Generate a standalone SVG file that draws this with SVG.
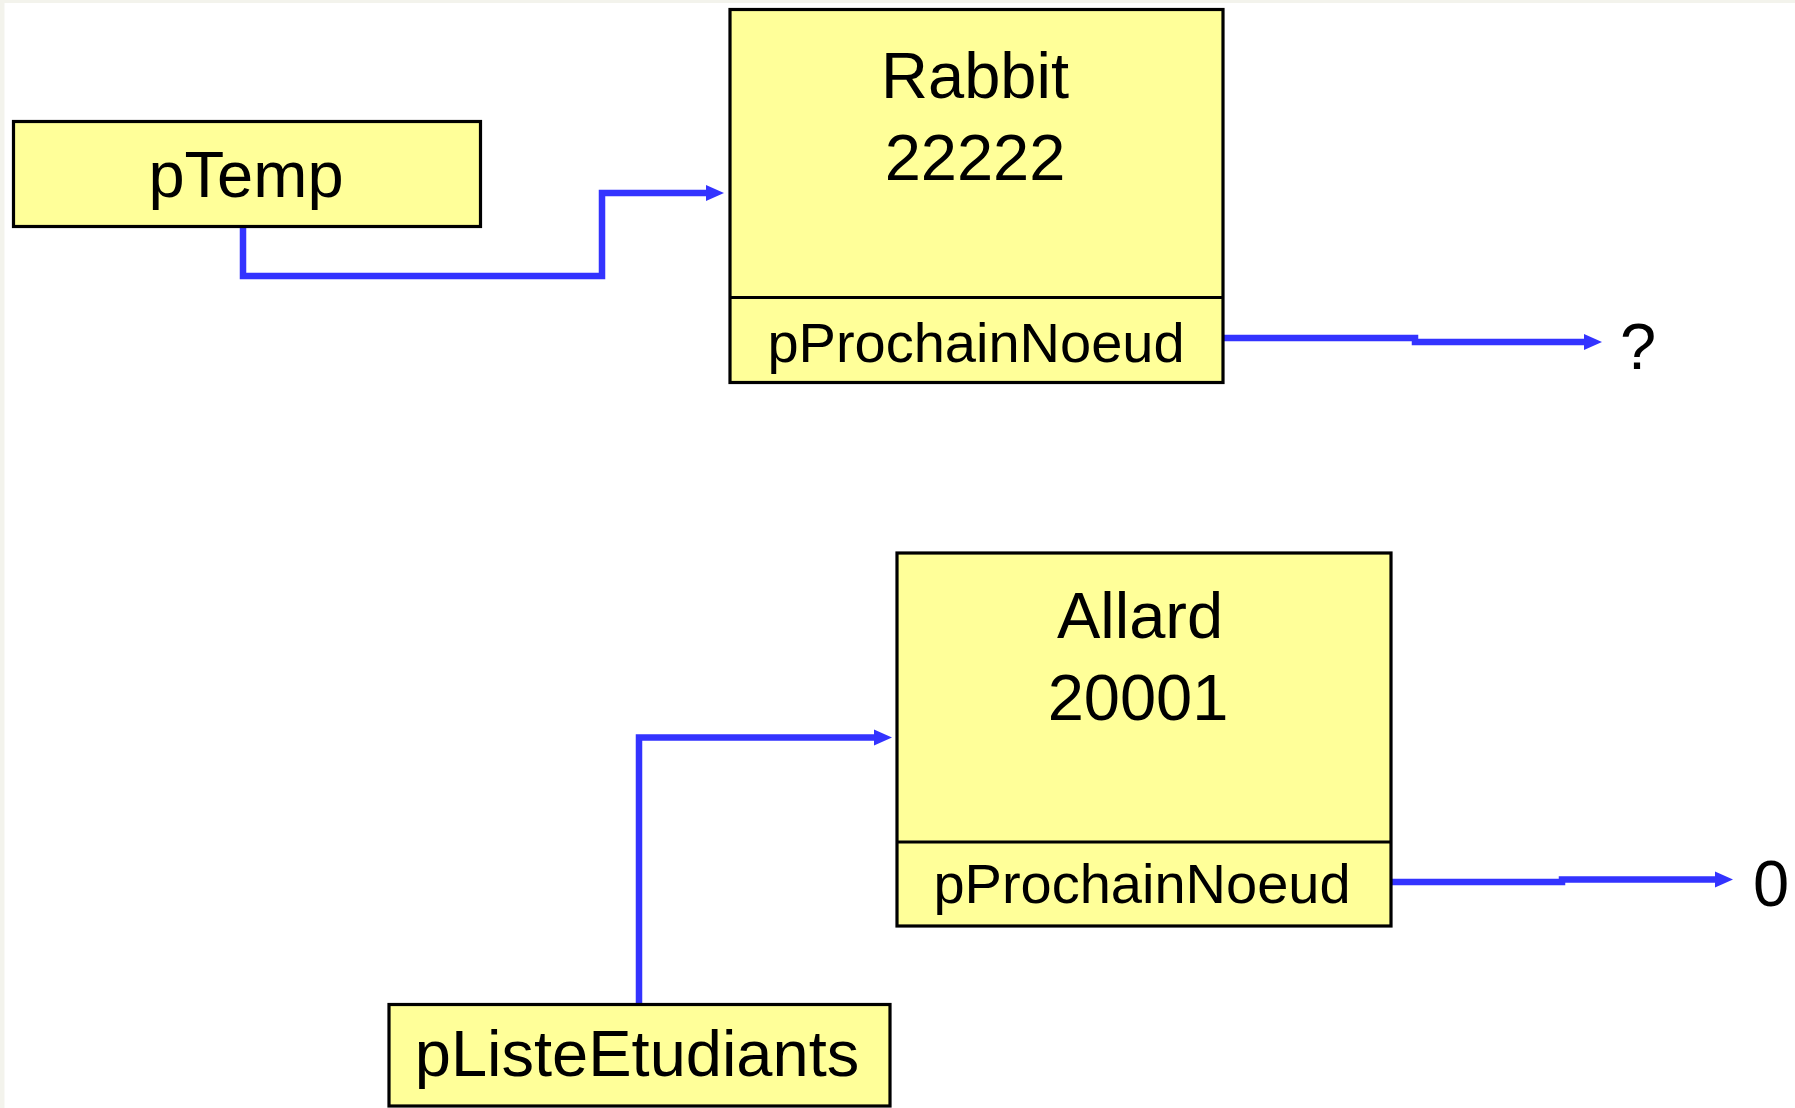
<svg xmlns="http://www.w3.org/2000/svg" width="1795" height="1108" viewBox="0 0 1795 1108">
  <style>
    .box { fill: #ffff99; stroke: #000000; stroke-width: 3.2; }
    .div { stroke: #000000; stroke-width: 3.2; fill: none; }
    .big { font-family: "Liberation Sans", Arial, sans-serif; font-size: 65px; fill: #000000; text-anchor: middle; }
    .mid { font-family: "Liberation Sans", Arial, sans-serif; font-size: 56px; fill: #000000; text-anchor: middle; }
    .conn { fill: none; stroke: #3333ff; stroke-width: 6.5; stroke-linejoin: miter; }
  </style>
  <defs>
    <marker id="arrow" markerUnits="userSpaceOnUse" markerWidth="19" markerHeight="18" refX="0" refY="9" orient="auto" viewBox="0 0 19 18">
      <path d="M0,1 L18,9 L0,17 z" fill="#3333ff"/>
    </marker>
  </defs>

  <rect x="0" y="0" width="1795" height="1108" fill="#f3f3ec"/>
  <rect x="4.5" y="3" width="1790.5" height="1105" fill="#ffffff"/>

  <g id="connectors">
    <path class="conn" d="M243,222 V276 H602 V193 H706" marker-end="url(#arrow)"/>
    <path class="conn" d="M1224,338 H1415 V342 H1584" marker-end="url(#arrow)"/>
    <path class="conn" d="M639,1004 V737.5 H874" marker-end="url(#arrow)"/>
    <path class="conn" d="M1391,882 H1562 V879.5 H1715" marker-end="url(#arrow)"/>
  </g>

  <g id="pTemp">
    <rect class="box" x="13.5" y="121.5" width="467" height="105"/>
    <text class="big" x="246" y="197">pTemp</text>
  </g>

  <g id="rabbit">
    <rect class="box" x="730" y="9.5" width="493" height="373"/>
    <line class="div" x1="730" y1="297.5" x2="1223" y2="297.5"/>
    <text class="big" x="975" y="98">Rabbit</text>
    <text class="big" x="975" y="180">22222</text>
    <text class="mid" x="976" y="362">pProchainNoeud</text>
  </g>

  <g id="question">
    <text class="big" x="1638" y="369">?</text>
  </g>

  <g id="allard">
    <rect class="box" x="897" y="553" width="494" height="373"/>
    <line class="div" x1="897" y1="842" x2="1391" y2="842"/>
    <text class="big" x="1140" y="638">Allard</text>
    <text class="big" x="1138" y="720">20001</text>
    <text class="mid" x="1142" y="903">pProchainNoeud</text>
  </g>

  <g id="zero">
    <text class="big" x="1771" y="906">0</text>
  </g>

  <g id="pListeEtudiants">
    <rect class="box" x="389" y="1004.5" width="501" height="101.5"/>
    <text class="big" x="637" y="1076">pListeEtudiants</text>
  </g>
</svg>
